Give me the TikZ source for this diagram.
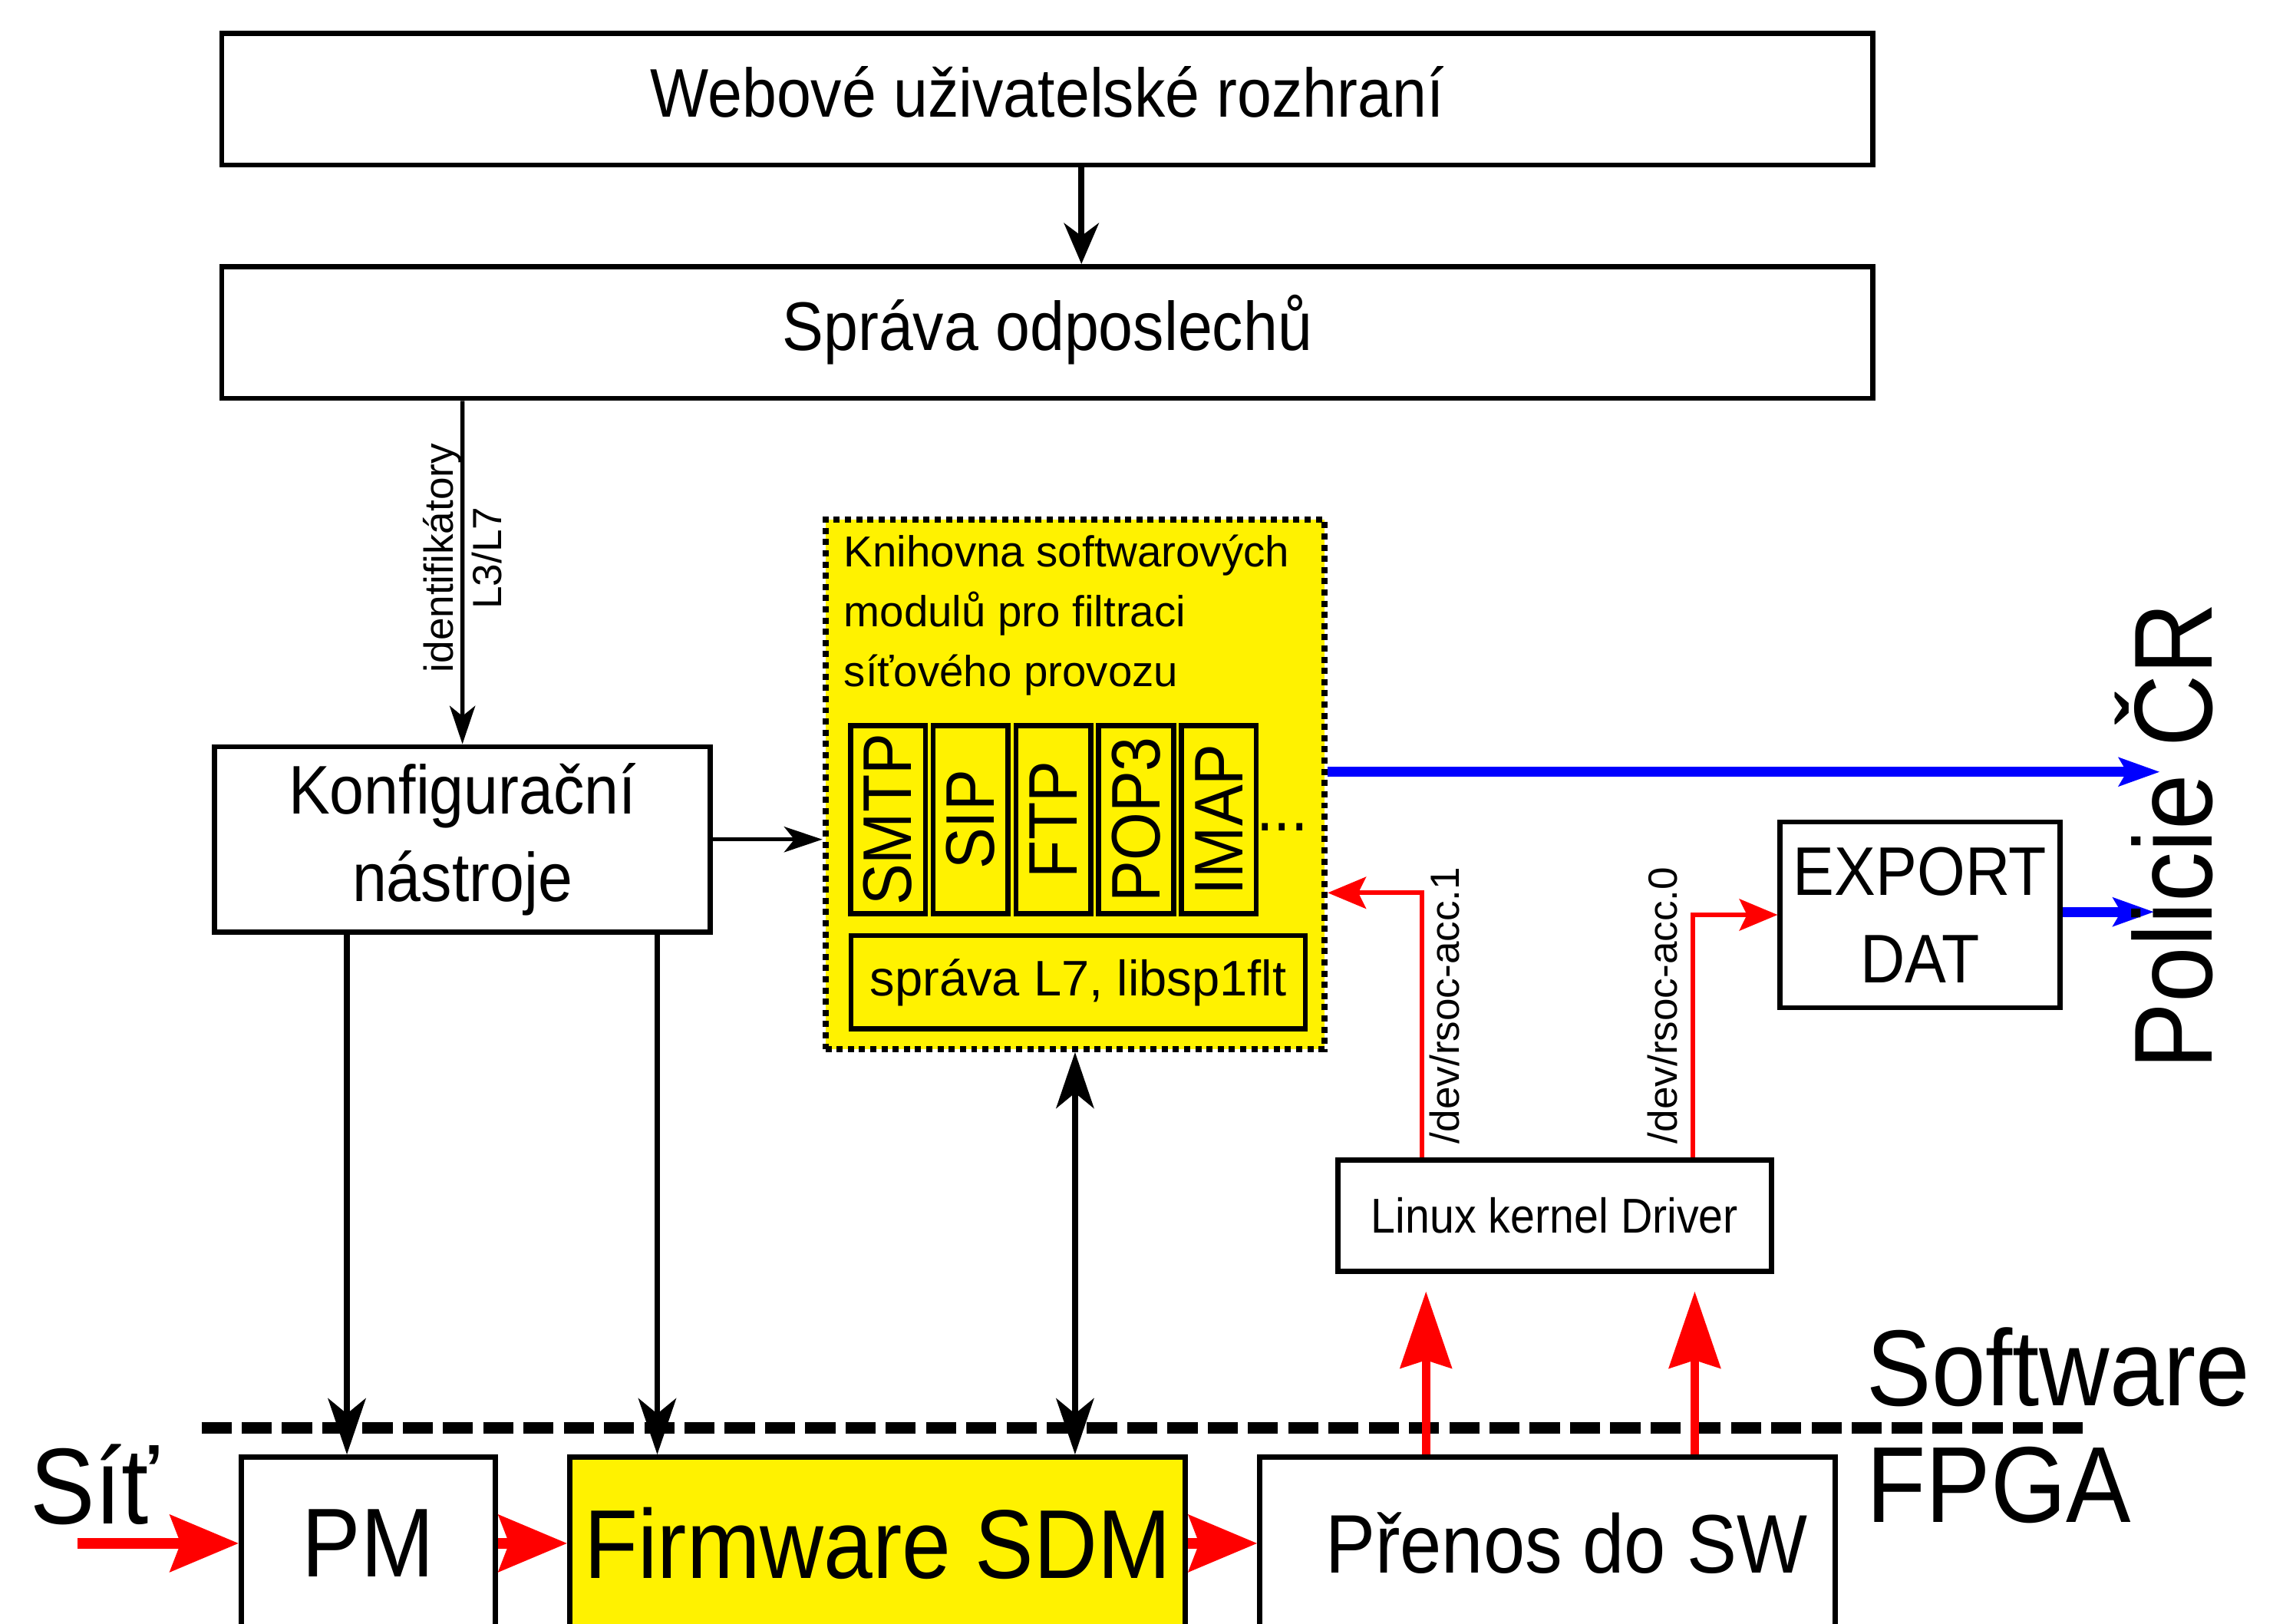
\documentclass[tikz,border=0pt]{standalone}
\usepackage{fontspec}
\setmainfont{Liberation Sans}[FakeStretch=0.9]
\newfontfamily\plainfont{Liberation Sans}
\usetikzlibrary{arrows.meta, positioning}
\tikzset{
	box/.style={draw, rectangle, line width=1pt, inner sep=0pt, align=center, font=\fontsize{13.5}{17.2}\selectfont},
	onebox/.style={box, text height=10pt, text depth=3pt},
	fpgabox/.style={box, minimum height=1.19cm, font=\fontsize{19.2}{22}\selectfont},
	modbox/.style={box, fill=yellow, rotate=90, minimum width=1.295cm, minimum height=0.517cm},
	library/.style={rectangle, draw, fill=yellow, line width=1.2pt, dash pattern=on 1.2pt off 1pt, minimum width=3.444cm, minimum height=3.65cm},
	% rotated labels along the links
	devlabel/.style={rotate=90, anchor=base, inner sep=0pt, font=\plainfont\fontsize{8}{9.4}\selectfont},
	bigword/.style={inner sep=0pt, font=\fontsize{21.2}{25}\selectfont},
}

\begin{document}
\begin{tikzpicture}
	\useasboundingbox (0,0) rectangle (15.68,-11.2);
	\clip (0,0) rectangle (15.68,-11.2);
	
	% software side
	\node (web) [onebox, minimum width=11.39cm, minimum height=0.909cm] at (7.225,-0.684) {Webové uživatelské rozhraní};
	\node (sprava) [onebox, minimum width=11.39cm, minimum height=0.909cm, below=0.665cm of web] {Správa odposlechů};
	\node (konfig) [box, minimum width=3.42cm, minimum height=1.28cm] at (3.19,-5.79) {Konfigurační\\nástroje};
	
	% library of modules
	\node (lib) [library] at (7.416,-5.411) {};
	\node (libtitle) [anchor=base west, inner sep=0pt, align=left, font=\plainfont\fontsize{8.5}{11.75}\selectfont] at (5.815,-4.736) {Knihovna softwarových\\modulů pro filtraci\\síťového provozu};
	\foreach \p [count=\i] in {SMTP,SIP,FTP,POP3,IMAP}
		\node (mod\i) [modbox] at ({6.125+0.5707*(\i-1)},-5.653) {\p};
	\node (more) [anchor=base west, inner sep=0pt, font=\fontsize{13.5}{16}\selectfont] at (8.66,-5.73) {...};
	\node (sprL7) [box, minimum width=3.134cm, minimum height=0.645cm, font=\plainfont\fontsize{9.8}{12}\selectfont] at (7.438,-6.775) {správa L7, libsp1flt};
	
	\node (export) [box, minimum width=1.93cm, minimum height=1.28cm] at (13.245,-6.31) {EXPORT\\DAT};
	\node (driver) [box, minimum width=2.99cm, minimum height=0.77cm, font=\fontsize{9.6}{12}\selectfont] at (10.725,-8.385) {Linux kernel Driver};
	
	% FPGA side
	\node (pm) [fpgabox, minimum width=1.751cm] at (2.54,-10.645) {PM};
	\node (fw) [fpgabox, fill=yellow, minimum width=4.247cm, right=0.48cm of pm] {Firmware SDM};
	\node (prenos) [fpgabox, minimum width=3.97cm, right=0.478cm of fw, font=\fontsize{16.3}{19}\selectfont] {\hspace*{0.26cm}Přenos do SW};
	
	% free ends
	\coordinate (sitin) at (0.534,-10.645);
	\coordinate (pol1) at (14.90,-5.324);
	\coordinate (pol2) at (14.86,-6.29);
	\coordinate (sepL) at (1.39,-9.85);
	\coordinate (sepR) at (14.40,-9.85);
	\coordinate (k1) at ([xshift=-7.97mm]konfig.south);
	\coordinate (k2) at ([xshift=13.44mm]konfig.south);
	\coordinate (d1) at ([xshift=-9.15mm]driver.north);
	\coordinate (d0) at ([xshift=9.55mm]driver.north);
	\coordinate (p1) at ([xshift=-8.39mm]prenos.north);
	\coordinate (p0) at ([xshift=10.15mm]prenos.north);
	
	% border software / FPGA
	\draw[line width=2.3pt, dash pattern=on 5.9pt off 2pt] (sepL) -- (sepR);
	
	\begin{scope}[black, line width=1.2pt, -{Stealth[length=8pt, width=6.8pt, inset=2.5pt]}]
		\draw ([xshift=2.35mm]web.south) -- ([xshift=2.35mm]sprava.north);
	\end{scope}
	\begin{scope}[black, line width=0.8pt, -{Stealth[length=7.5pt, width=5pt, inset=2pt]}]
		\draw ([xshift=-40.35mm]sprava.south) -- node[devlabel, anchor=center, pos=0.458, align=center] {identifikátory\\L3/L7} (konfig.north);
		\draw (konfig.east) -- (konfig.east -| lib.west);
	\end{scope}
	\begin{scope}[black, line width=1.2pt, >={Stealth[length=11pt, width=7.4pt, inset=3pt]}]
		\draw[->] (k1) -- (k1 |- pm.north);
		\draw[->] (k2) -- (k2 |- fw.north);
		\draw[<->] (lib.south) -- (lib.south |- fw.north);
	\end{scope}
	
	% data path
	\begin{scope}[red, line width=2.1pt, -{Stealth[length=13.4pt, width=11pt, inset=2pt]}]
		\draw (sitin) -- (pm.west);
		\draw (pm.east) -- (fw.west);
		\draw (fw.east) -- (prenos.west);
	\end{scope}
	\begin{scope}[red, line width=1.7pt, shorten >=3.4pt, -{Stealth[length=15pt, width=10pt, inset=1.5pt]}]
		\draw (p1) -- (p1 |- driver.south);
		\draw (p0) -- (p0 |- driver.south);
	\end{scope}
	\begin{scope}[red, line width=0.9pt, -{Stealth[length=7.5pt, width=6.2pt, inset=1.5pt]}]
		\draw (d1) |- ([yshift=-7.47mm]lib.east);
		\draw (d0) |- (export.west);
	\end{scope}
	\begin{scope}[blue, line width=2pt, -{Stealth[length=8pt, width=5.5pt, inset=1.5pt]}]
		\draw (lib.east |- pol1) -- (pol1);
		\draw (export.east |- pol2) -- (pol2);
	\end{scope}
	
	% labels
	\node (sw) [bigword, anchor=base west] at (12.87,-9.696) {Software};
	\node (fpga) [bigword, anchor=base west] at (12.87,-10.50) {FPGA};
	\node (sit) [bigword, anchor=base west] at (0.20,-10.51) {Síť};
	\node (policie) [bigword, rotate=90, anchor=base, font=\fontsize{21.8}{25}\selectfont] at (15.26,-5.765) {Policie ČR};
	\node (acc1) [devlabel] at (10.067,-6.935) {/dev/rsoc-acc.1};
	\node (acc0) [devlabel] at (11.567,-6.935) {/dev/rsoc-acc.0};
\end{tikzpicture}
\end{document}
